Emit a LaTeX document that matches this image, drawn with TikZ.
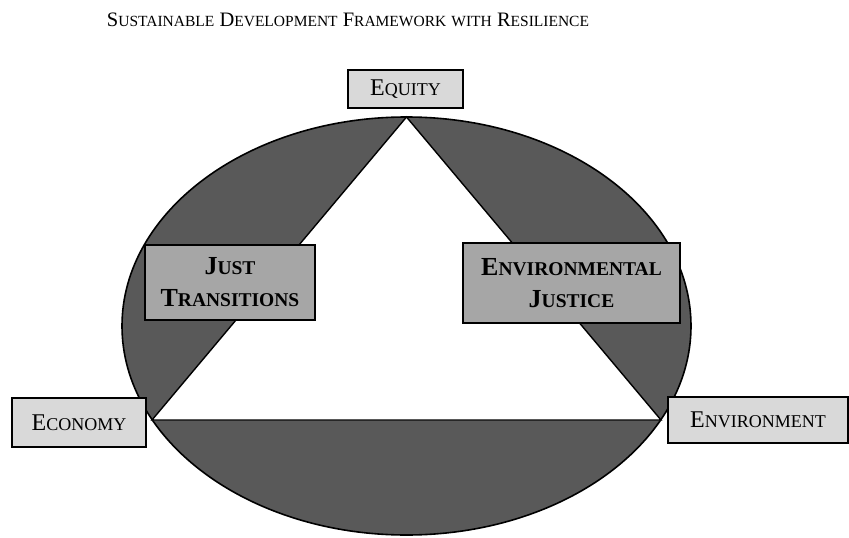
\documentclass[tikz,border=0pt]{standalone}
\usepackage{fontspec}
\setmainfont{Liberation Serif}
\newcommand{\smc}[1]{{\fontsize{18}{32}\selectfont #1}}
\newcommand{\smcb}[1]{{\fontsize{19.5}{32}\selectfont #1}}
\newcommand{\smct}[1]{{\fontsize{15.5}{24}\selectfont #1}}

\begin{document}
\begin{tikzpicture}[x=1pt,y=-1pt]

\def\colD{black!65};
\def\colL{black!15};
\def\colM{black!35};

\useasboundingbox (0,0) rectangle (849,538);

\node[font=\fontsize{20.5}{24}\selectfont,anchor=base]
      (title) at (348,27)
      {S\smct{USTAINABLE} D\smct{EVELOPMENT} F\smct{RAMEWORK} \smct{WITH} R\smct{ESILIENCE}};

\draw[line width=1.6pt,fill=\colD]
      (406.5,326) ellipse [x radius=284.5pt,y radius=209pt];

\coordinate (top) at (406.5,117);
\coordinate (left) at (152,420);
\coordinate (right) at (661,420);

\draw[line width=1.4pt,fill=white,line join=miter]
      (top) -- (left) -- (right) -- cycle;

\node[draw,line width=1.2pt,fill=\colL,
      minimum width=115pt,minimum height=38pt,
      font=\fontsize{24}{32}\selectfont]
      (eq) at (405.5,89) {E\smc{QUITY}};

\node[draw,line width=1.2pt,fill=\colL,
      minimum width=134pt,minimum height=49pt,
      font=\fontsize{24}{32}\selectfont]
      (econ) at (79,422.5) {E\smc{CONOMY}};

\node[draw,line width=1.2pt,fill=\colL,
      minimum width=180pt,minimum height=46pt,
      font=\fontsize{24}{32}\selectfont]
      (env) at (758,420) {E\smc{NVIRONMENT}};

\node[draw,line width=1.2pt,fill=\colM,
      minimum width=170pt,minimum height=75pt,align=center,
      font=\fontsize{26}{32}\selectfont\bfseries]
      (jt) at (230,282.5) {J\smcb{UST}\\T\smcb{RANSITIONS}};

\node[draw,line width=1.2pt,fill=\colM,
      minimum width=217pt,minimum height=80pt,align=center,
      font=\fontsize{26}{32}\selectfont\bfseries]
      (ej) at (571.5,283) {E\smcb{NVIRONMENTAL}\\J\smcb{USTICE}};

\end{tikzpicture}
\end{document}
